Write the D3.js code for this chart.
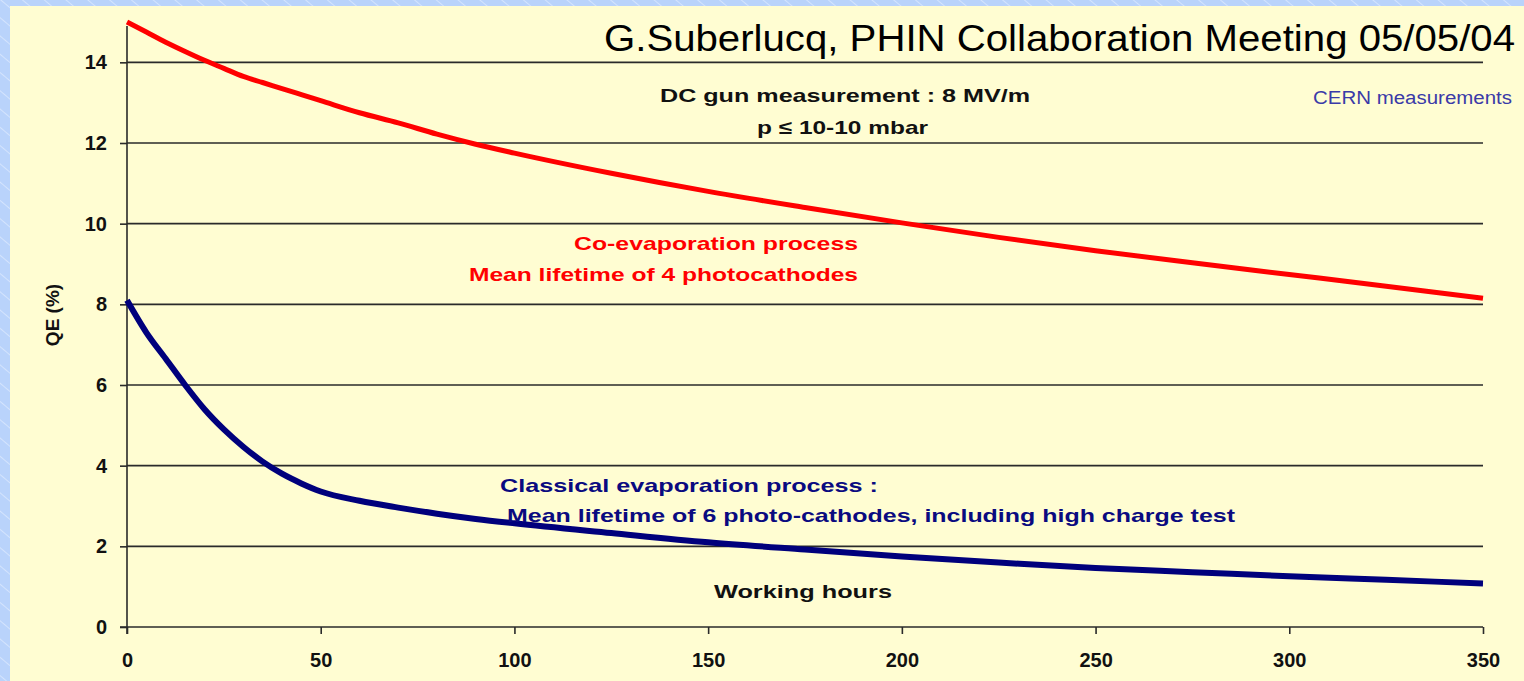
<!DOCTYPE html>
<html>
<head>
<meta charset="utf-8">
<script src="https://cdn.jsdelivr.net/npm/d3@7"></script>
<style>
  html, body { margin: 0; padding: 0; background: #b9d3fb; }
  svg { display: block; font-family: "Liberation Sans", Arial, sans-serif; }
</style>
</head>
<body>
<svg id="chart"></svg>
<script>
// data
const hours = [0, 5, 10, 15, 20, 25, 30, 35, 40, 45, 50, 60, 70, 80, 90, 100, 125, 150, 175, 200, 225, 250, 275, 300, 325, 350];
const coEvap = [15.0, 14.75, 14.5, 14.27, 14.05, 13.85, 13.65, 13.5, 13.35, 13.2, 13.05, 12.75, 12.5, 12.22, 11.97, 11.75, 11.25, 10.8, 10.4, 10.02, 9.66, 9.33, 9.03, 8.74, 8.45, 8.15];
const classical = [8.1, 7.3, 6.65, 6.0, 5.4, 4.9, 4.47, 4.1, 3.8, 3.56, 3.36, 3.13, 2.96, 2.81, 2.68, 2.57, 2.33, 2.1, 1.92, 1.75, 1.6, 1.46, 1.36, 1.26, 1.17, 1.08];
const xTicks = [0, 50, 100, 150, 200, 250, 300, 350];
const yTicks = [0, 2, 4, 6, 8, 10, 12, 14];

const width = 1524;
const height = 681;
const margin = { top: 22, right: 41, bottom: 54, left: 127 };

const svg = d3.select('#chart')
  .attr('width', width)
  .attr('height', height);

// striped blue backdrop + pale yellow panel
const defs = svg.append('defs');
const pat = defs.append('pattern')
  .attr('id', 'stripes')
  .attr('width', 14)
  .attr('height', 14)
  .attr('patternUnits', 'userSpaceOnUse')
  .attr('patternTransform', 'rotate(-50)');
pat.append('rect').attr('width', 14).attr('height', 14).attr('fill', '#b9d3fb');
pat.append('line').attr('x1', 0).attr('y1', 0).attr('x2', 0).attr('y2', 14)
  .attr('stroke', '#d4e4fd').attr('stroke-width', 2);

svg.append('rect').attr('width', width).attr('height', height).attr('fill', 'url(#stripes)');
svg.append('rect').attr('x', 10).attr('y', 6).attr('width', width - 10).attr('height', height - 6)
  .attr('fill', '#fffdd2');

const x = d3.scaleLinear().domain([0, 350]).range([margin.left, width - margin.right]);
const y = d3.scaleLinear().domain([0, 15]).range([height - margin.bottom, margin.top]);

// gridlines
svg.append('g')
  .selectAll('line')
  .data(yTicks.filter((d) => d > 0))
  .enter()
  .append('line')
  .attr('x1', x(0))
  .attr('x2', x(350))
  .attr('y1', (d) => y(d))
  .attr('y2', (d) => y(d))
  .attr('stroke', '#2a2a2a')
  .attr('stroke-width', 1.6);

// axes
const yAxis = svg.append('g')
  .attr('transform', 'translate(' + x(0) + ',0)')
  .call(d3.axisLeft(y).tickValues(yTicks).tickSize(7).tickPadding(13).tickFormat(d3.format('d')));
yAxis.select('.domain').attr('d', 'M0,' + y(14.9) + 'V' + (y(0) + 7));

const xAxis = svg.append('g')
  .attr('transform', 'translate(0,' + y(0) + ')')
  .call(d3.axisBottom(x).tickValues(xTicks).tickSize(7).tickPadding(19).tickFormat(d3.format('d')));
xAxis.select('.domain').attr('d', 'M' + (x(0) - 7) + ',0H' + x(350));

svg.selectAll('.tick line, .domain').attr('stroke', '#2a2a2a').attr('stroke-width', 1.6);
svg.selectAll('.tick text')
  .attr('font-family', '"Liberation Sans", Arial, sans-serif')
  .attr('font-size', 20)
  .attr('font-weight', 'bold')
  .attr('fill', '#111');

// curves
const line = d3.line()
  .x((d) => x(d[0]))
  .y((d) => y(d[1]))
  .curve(d3.curveMonotoneX);

svg.append('path')
  .datum(hours.map((h, i) => [h, coEvap[i]]))
  .attr('d', line)
  .attr('fill', 'none')
  .attr('stroke', '#ff0000')
  .attr('stroke-width', 5);

svg.append('path')
  .datum(hours.map((h, i) => [h, classical[i]]))
  .attr('d', line)
  .attr('fill', 'none')
  .attr('stroke', '#00007c')
  .attr('stroke-width', 6);

// texts
function label(txt, tx, ty, opts) {
  const t = svg.append('text')
    .attr('x', tx)
    .attr('y', ty)
    .attr('font-size', opts.size || 19)
    .attr('font-weight', opts.weight || 'bold')
    .attr('fill', opts.color || '#111')
    .attr('text-anchor', opts.anchor || 'start')
    .text(txt);
  if (opts.len) t.attr('textLength', opts.len).attr('lengthAdjust', 'spacingAndGlyphs');
  return t;
}

label('G.Suberlucq, PHIN Collaboration Meeting 05/05/04', 604, 51, { size: 37, weight: 'normal', color: '#000', len: 911 });
label('DC gun measurement : 8 MV/m', 660, 102, { len: 370 });
label('p \u2264 10-10 mbar', 757, 134, { len: 171 });
label('CERN measurements', 1313, 104, { size: 18, weight: 'normal', color: '#3a3aa8', len: 199 });
label('Co-evaporation process', 574, 250, { color: '#ff0000', len: 284 });
label('Mean lifetime of 4 photocathodes', 469, 281, { color: '#ff0000', len: 389 });
label('Classical evaporation process  :', 500, 492, { color: '#0a0a80', len: 378 });
label('Mean lifetime of 6 photo-cathodes, including high charge test', 507, 522, { color: '#0a0a80', len: 728 });
label('Working hours', 714, 598, { len: 178 });

svg.append('text')
  .attr('transform', 'translate(59,315) rotate(-90)')
  .attr('text-anchor', 'middle')
  .attr('font-size', 19)
  .attr('font-weight', 'bold')
  .attr('fill', '#111')
  .text('QE (%)');
</script>
</body>
</html>
